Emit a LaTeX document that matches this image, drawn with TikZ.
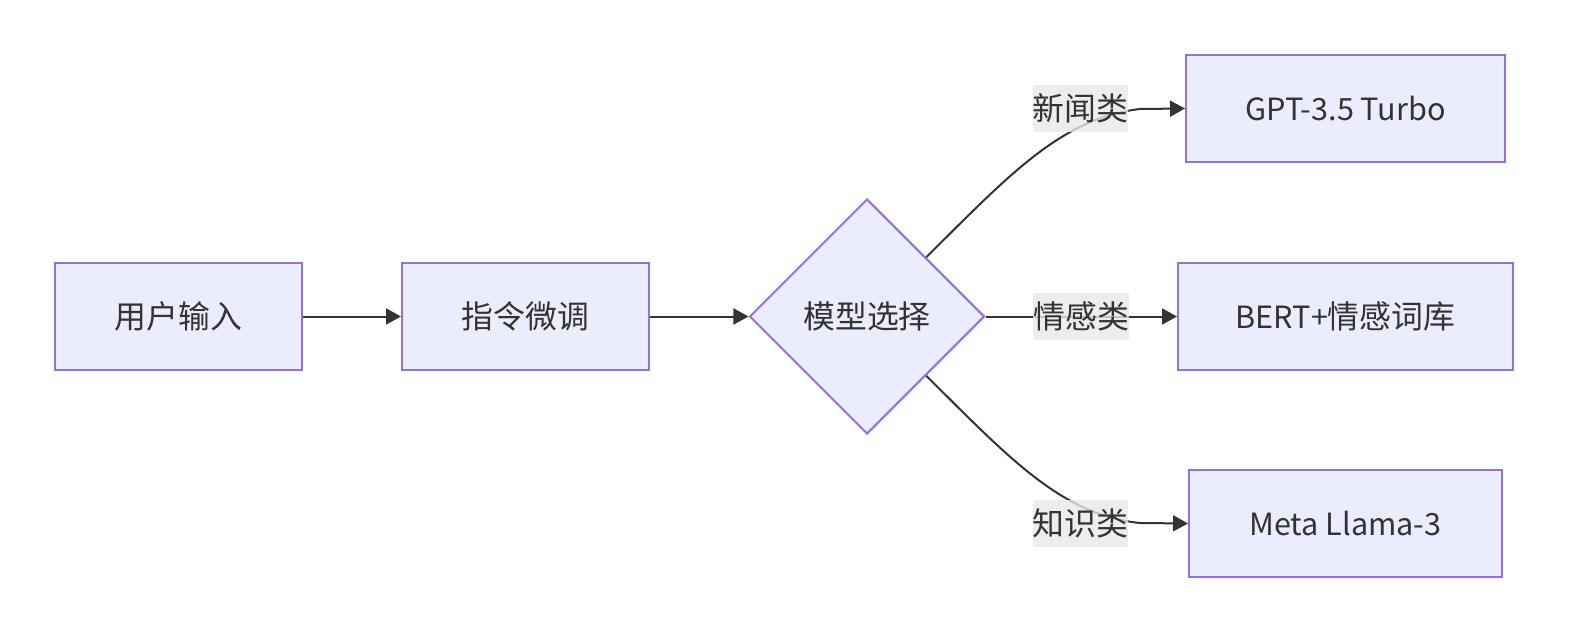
\documentclass[tikz,border=0pt]{standalone}
\usepackage{fontspec}
\setmainfont{Noto Sans CJK SC}
\newfontfamily\lat[Scale=0.96]{Noto Sans CJK SC}
\usetikzlibrary{shapes.geometric,arrows.meta}
\definecolor{boxfill}{HTML}{ECECFF}
\definecolor{boxline}{HTML}{9370DB}
\definecolor{ink}{HTML}{333333}
\definecolor{lblfill}{HTML}{E8E8E8}
\begin{document}
\begin{tikzpicture}[x=0.5bp, y=-0.5bp,
		box/.style={draw=boxline, fill=boxfill, line width=1bp, minimum height=53.5bp, inner sep=0pt, text=ink, font=\fontsize{16}{19}\selectfont},
		choice/.style={diamond, aspect=1, draw=boxline, fill=boxfill, line width=1bp, minimum width=117.5bp, minimum height=117.5bp, inner sep=0pt, text=ink, font=\fontsize{16}{19}\selectfont},
		arr/.style={draw=ink, line width=1bp, -{Triangle[length=7.5bp, width=8bp]}},
		lbl/.style={fill=lblfill, fill opacity=0.8, text opacity=1, text=ink, inner sep=0pt, minimum width=47.5bp, minimum height=23.5bp, font=\fontsize{16}{19}\selectfont}]
		\useasboundingbox (0,0) rectangle (1575,636);

		% Draw the main chain
		\node[box, minimum width=123.5bp] (input) at (178.5,316.5) {用户输入};
		\node[box, minimum width=123.5bp] (tune) at (525.5,316.5) {指令微调};
		\node[choice] (sel) at (867,316.5) {模型选择};

		% Draw the model boxes
		\node[box, minimum width=159.5bp] (gpt) at (1345.5,108.5) {\lat GPT-3.5 Turbo};
		\node[box, minimum width=167.5bp] (bert) at (1345.5,316.5) {{\lat BERT+}情感词库};
		\node[box, minimum width=156.5bp] (llama) at (1345.5,523.5) {\lat Meta Llama-3};

		% Draw the arrows
		\draw[arr] (input) -- (tune);
		\draw[arr] (tune) -- (sel);
		\draw[arr] (sel.north east) .. controls (1010,174) and (1062,118) .. (1140,109) -- (gpt.west);
		\draw[arr] (sel) -- (bert) node[lbl, midway] (l2) {情感类};
		\draw[arr] (sel.south east) .. controls (1010,459) and (1062,515) .. (1140,523) -- (llama.west);

		% Draw the labels on the curved arrows
		\node[lbl] (l1) at (1080.5,108.5) {新闻类};
		\node[lbl] (l3) at (1080.5,523.5) {知识类};

	\end{tikzpicture}
\end{document}
